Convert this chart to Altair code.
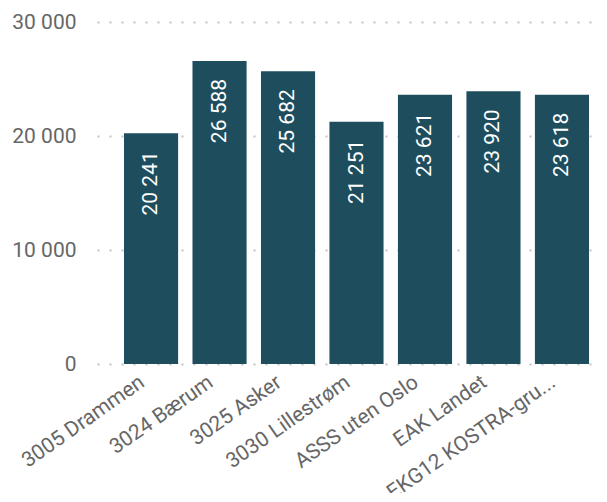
import altair as alt
import pandas as pd

categories = ["3005 Drammen", "3024 Bærum", "3025 Asker", "3030 Lillestrøm",
              "ASSS uten Oslo", "EAK Landet", "EKG12 KOSTRA-gru..."]
values = [20241, 26588, 25682, 21251, 23621, 23920, 23618]
y_ticks = [0, 10000, 20000, 30000]

df = pd.DataFrame({"kat": categories, "verdi": values})

FONT = "Roboto"
BAR = "#1E4E5E"

x = alt.X("kat:N", sort=categories, title=None,
          scale=alt.Scale(paddingInner=0.21, paddingOuter=0.27, align=0.73),
          axis=alt.Axis(labelAngle=-35, labelAlign="right", labelBaseline="top",
                        labelPadding=7, labelOffset=-15, labelLimit=300))
y = alt.Y("verdi:Q", title=None,
          scale=alt.Scale(domain=[0, 30000], nice=False),
          axis=alt.Axis(values=y_ticks, format=",.0f", labelPadding=21, grid=True))

base = alt.Chart(df)
bars = base.mark_bar(color=BAR).encode(x=x, y=y)
labels = base.mark_text(angle=270, align="right", baseline="middle", dx=-18,
                        color="white", fontSize=21, font=FONT).encode(
    x=alt.X("kat:N", sort=categories),
    y=alt.Y("verdi:Q"),
    text=alt.Text("verdi:Q", format=",.0f"))

chart = (bars + labels).properties(
    width=502, height=342,
    autosize=alt.AutoSizeParams(type="none"),
    padding={"left": 89, "top": 14, "right": 0, "bottom": 129},
).configure(
    locale={"number": {"decimal": ",", "thousands": " ", "grouping": [3],
                       "currency": ["", " kr"]}}
).configure_axis(
    ticks=False, domain=False, labelFontSize=21, labelColor="#666666",
    labelFont=FONT,
).configure_axisX(grid=False).configure_axisY(
    grid=True, gridColor="#C4C4C4", gridDash=[2, 10], gridWidth=2,
).configure_view(stroke=None)

chart.save("out.html", embed_options={"renderer": "svg", "actions": False})
